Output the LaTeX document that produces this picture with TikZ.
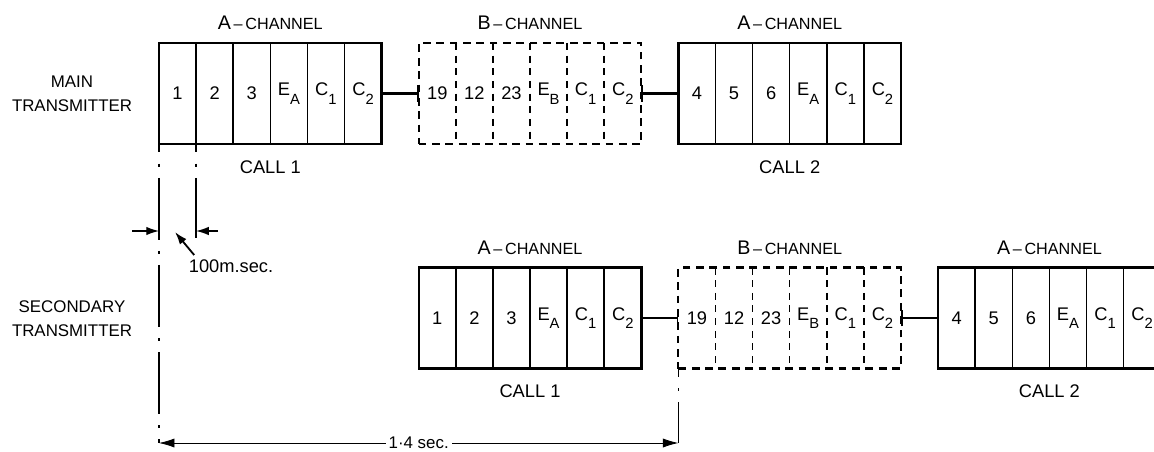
\documentclass[tikz,border=0pt]{standalone}
\usepackage{fontspec}
\setmainfont{Liberation Sans}
\usetikzlibrary{arrows.meta,fit,positioning}

\newcommand{\sub}[1]{\raisebox{-6pt}{\fontsize{10.5}{10.5}\selectfont #1}}
\newcommand{\chname}[1]{{\fontsize{14}{14}\selectfont #1}\,\textendash\,CHANNEL}

\begin{document}
\begin{tikzpicture}[
        x=0.025cm, y=-0.025cm,
        cell/.style={
            rectangle,
            draw,
            line width=1.1pt,
            minimum width=0.9275cm,
            minimum height=2.525cm,
            inner sep=0pt,
            outer sep=0pt,
            font=\fontsize{13}{13}\selectfont
        },
        bcell/.style={
            cell,
            draw=none
        },
        bdiv/.style={
            line width=1.1pt,
            dash pattern=on 5pt off 4pt
        },
        frame/.style={
            rectangle,
            draw,
            line width=1.7pt,
            inner sep=0pt,
            outer sep=0pt
        },
        bframe/.style={
            frame,
            line width=1.5pt,
            dash pattern=on 5.5pt off 4pt
        },
        chlabel/.style={
            inner sep=0pt,
            font=\fontsize{11.5}{11.5}\selectfont
        },
        calllabel/.style={
            inner sep=0pt,
            font=\fontsize{13}{13}\selectfont
        },
        txlabel/.style={
            align=center,
            font=\fontsize{12}{17}\selectfont
        },
        link/.style={
            line width=2pt
        },
        chain/.style={
            line width=1pt,
            dash pattern=on 44pt off 8pt on 2pt off 8pt,
            dash phase=38pt
        },
        dim/.style={
            -{Latex[length=9pt,width=6pt]},
            line width=0.9pt
        },
        spanline/.style={
            {Latex[length=11pt,width=6.5pt]}-{Latex[length=11pt,width=6.5pt]},
            line width=0.6pt
        }
    ]

        \path[use as bounding box, clip] (0,0) rectangle (1154,452);

        % main transmitter
        \node[txlabel] (main) at (72,93.5) {MAIN\\TRANSMITTER};

        \foreach \txt [count=\i] in {1,2,3,E\sub{A},C\sub{1},C\sub{2}}
            \node[cell] (ma\i) at ({159+(\i-0.5)*37.1},93.5) {\txt};
        \node[frame, fit=(ma1)(ma6)] (mainA) {};

        \foreach \txt [count=\i] in {19,12,23,E\sub{B},C\sub{1},C\sub{2}}
            \node[bcell] (mb\i) at ({418.7+(\i-0.5)*37.1},93.5) {\txt};
        \foreach \i in {1,...,5}
            \draw[bdiv] (mb\i.north east) -- (mb\i.south east);
        \node[bframe, fit=(mb1)(mb6)] (mainB) {};

        \foreach \txt [count=\i] in {4,5,6,E\sub{A},C\sub{1},C\sub{2}}
            \node[cell] (mc\i) at ({678.4+(\i-0.5)*37.1},93.5) {\txt};
        \node[frame, fit=(mc1)(mc6)] (mainC) {};

        \node[chlabel, above=9pt of mainA] {\chname{A}};
        \node[chlabel, above=9pt of mainB] {\chname{B}};
        \node[chlabel, above=9pt of mainC] {\chname{A}};
        \node[calllabel, below=11.5pt of mainA] {CALL 1};
        \node[calllabel, below=11.5pt of mainC] {CALL 2};

        \draw[link, -{Bar[width=12pt,line width=1.2pt]}] (mainA.east) -- (mainB.west);
        \draw[link, {Bar[width=12pt,line width=1.2pt]}-] (mainB.east) -- (mainC.west);

        % secondary transmitter
        \node[txlabel] (sec) at (72,318.5) {SECONDARY\\TRANSMITTER};

        \foreach \txt [count=\i] in {1,2,3,E\sub{A},C\sub{1},C\sub{2}}
            \node[cell] (sa\i) at ({418.7+(\i-0.5)*37.1},318) {\txt};
        \node[frame, fit=(sa1)(sa6)] (secA) {};

        \foreach \txt [count=\i] in {19,12,23,E\sub{B},C\sub{1},C\sub{2}}
            \node[bcell] (sb\i) at ({678.4+(\i-0.5)*37.1},318) {\txt};
        \foreach \i in {1,...,5}
            \draw[bdiv] (sb\i.north east) -- (sb\i.south east);
        \node[bframe, fit=(sb1)(sb6)] (secB) {};

        \foreach \txt [count=\i] in {4,5,6,E\sub{A},C\sub{1},C\sub{2}}
            \node[cell] (sc\i) at ({938.1+(\i-0.5)*37.1},318) {\txt};
        \node[frame, fit=(sc1)(sc6)] (secC) {};

        \node[chlabel, above=9pt of secA] {\chname{A}};
        \node[chlabel, above=9pt of secB] {\chname{B}};
        \node[chlabel, above=9pt of secC] {\chname{A}};
        \node[calllabel, below=11.5pt of secA] {CALL 1};
        \node[calllabel, below=11.5pt of secC] {CALL 2};

        \draw[link, -{Bar[width=12pt,line width=1.2pt]}] (secA.east) -- (secB.west);
        \draw[link, {Bar[width=12pt,line width=1.2pt]}-] (secB.east) -- (secC.west);

        % timing
        \coordinate (base1) at (mainA.south west |- 0,443);
        \coordinate (base2) at (secB.south west |- base1);
        \coordinate (g2) at (ma1.south east |- 0,238);
        \coordinate (msl) at (132,231);
        \coordinate (msr) at (218,231);
        \coordinate (mstip) at (175,232);

        \draw[chain] (mainA.south west) -- (base1);
        \draw[chain] (ma1.south east) -- (g2);
        \draw[chain] (secB.south west) -- (base2);

        \draw[dim] (msl) -- (msl -| mainA.south west);
        \draw[dim] (msr) -- (msr -| ma1.south east);
        \node[inner sep=0pt, font=\fontsize{13}{13}\selectfont] (ms) at (231,266) {100m.sec.};
        \draw[dim, line width=1.3pt] ([shift={(4pt,3pt)}]ms.north west) -- (mstip);

        \draw[spanline] (base1) -- node[fill=white, inner sep=2pt, font=\fontsize{12}{12}\selectfont] (dur) {1·4 sec.} (base2);

    \end{tikzpicture}
\end{document}
